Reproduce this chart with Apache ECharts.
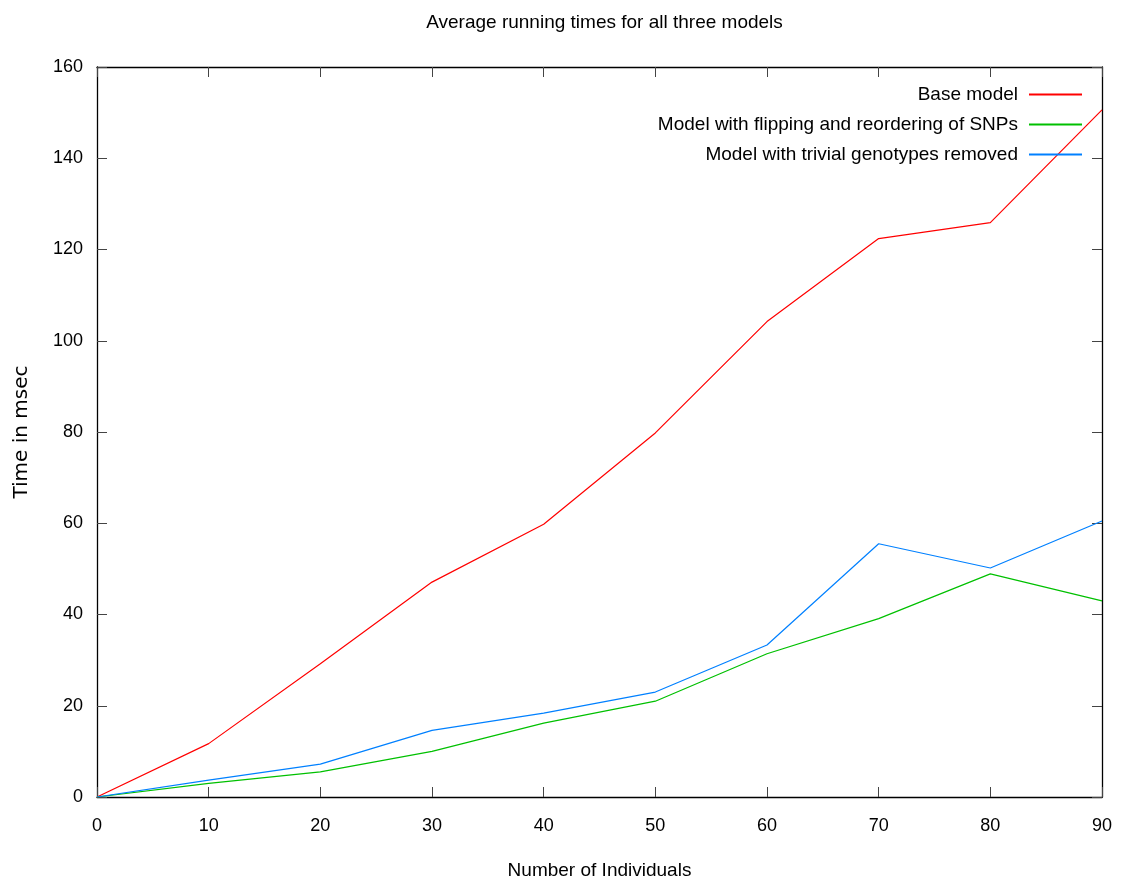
<!DOCTYPE html>
<html>
<head>
<meta charset="utf-8">
<script src="https://cdn.jsdelivr.net/npm/echarts@6/dist/echarts.min.js"></script>
<style>html,body{margin:0;padding:0;background:#fff}#c{width:1122px;height:885px}</style>
</head>
<body>
<div id="c"></div>
<script>
const individuals = [0, 10, 20, 30, 40, 50, 60, 70, 80, 90];
const baseModel = [0, 11.7, 29.2, 47.1, 59.8, 79.8, 104.2, 122.4, 125.9, 150.6];
const flippingModel = [0, 3.0, 5.5, 10.0, 16.2, 21.0, 31.4, 39.1, 48.9, 43.0];
const trivialRemoved = [0, 3.7, 7.2, 14.6, 18.4, 23.0, 33.3, 55.5, 50.2, 60.5];
const seriesNames = ["Base model", "Model with flipping and reordering of SNPs", "Model with trivial genotypes removed"];
const seriesColors = ["#ff0000", "#00c000", "#0080ff"];

const FONT = "'Liberation Sans', Arial, sans-serif";
const chart = echarts.init(document.getElementById('c'));
const pairs = arr => individuals.map((x, i) => [x, arr[i]]);
const tickStyle = {show: true, inside: true, length: 10, lineStyle: {color: '#444', width: 1}};
const axisLine = {show: true, onZero: false, lineStyle: {color: '#000', width: 1.3}};

chart.setOption({
  animation: false,
  backgroundColor: '#fff',
  title: {
    text: 'Average running times for all three models',
    left: 599.5, top: 8, textAlign: 'center',
    textStyle: {fontFamily: FONT, fontSize: 19, fontWeight: 'normal', color: '#000'}
  },
  legend: {
    right: 40, top: 85, orient: 'vertical', align: 'right', padding: 0,
    itemWidth: 53, itemHeight: 2, itemGap: 11,
    icon: 'rect',
    textStyle: {fontFamily: FONT, fontSize: 19, color: '#000', padding: [0, 6, 0, 0]},
    data: seriesNames
  },
  grid: {left: 97, right: 20, top: 67, bottom: 88, containLabel: false},
  xAxis: [{
    type: 'value', min: 0, max: 90, interval: 10,
    name: 'Number of Individuals', nameLocation: 'middle', nameGap: 64,
    nameTextStyle: {fontFamily: FONT, fontSize: 19, color: '#000'},
    axisLine, axisTick: tickStyle, splitLine: {show: false},
    axisLabel: {fontFamily: FONT, fontSize: 18, color: '#000', margin: 20}
  }, {
    type: 'value', min: 0, max: 90, interval: 10, position: 'top',
    axisLine, axisTick: tickStyle, splitLine: {show: false}, axisLabel: {show: false}
  }],
  yAxis: [{
    type: 'value', min: 0, max: 160, interval: 20,
    name: 'Time in msec', nameLocation: 'middle', nameGap: 65,
    nameTextStyle: {fontFamily: "'DejaVu Sans', sans-serif", fontSize: 20, color: '#000'},
    axisLine, axisTick: tickStyle, splitLine: {show: false},
    axisLabel: {fontFamily: FONT, fontSize: 18, color: '#000', margin: 14}
  }, {
    type: 'value', min: 0, max: 160, interval: 20, position: 'right',
    axisLine, axisTick: tickStyle, splitLine: {show: false}, axisLabel: {show: false}
  }],
  series: [baseModel, flippingModel, trivialRemoved].map((arr, i) => ({
    name: seriesNames[i], type: 'line', data: pairs(arr),
    showSymbol: false, symbol: 'none',
    lineStyle: {color: seriesColors[i], width: 1.2},
    itemStyle: {color: seriesColors[i]},
    z: 3
  }))
});
</script>
</body>
</html>
